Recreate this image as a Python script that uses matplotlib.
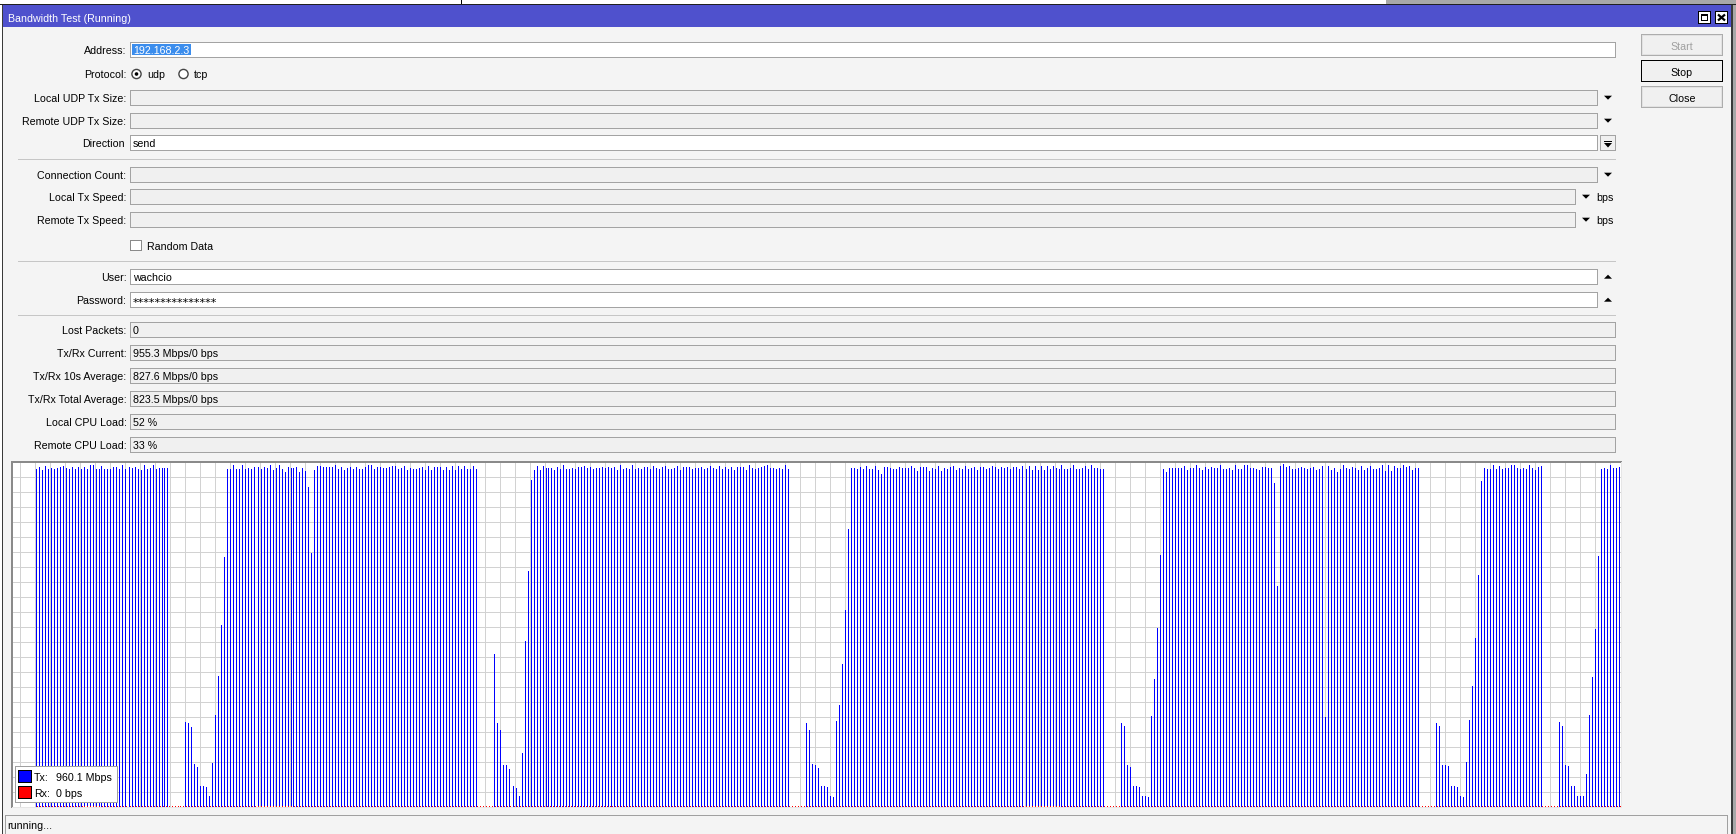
import matplotlib
matplotlib.use("Agg")
import matplotlib.pyplot as plt
from matplotlib.patches import Rectangle, Polygon, Circle
import numpy as np

# ---------------- data (Tx throughput per sample, Mbps) ----------------
tx_block1 = [956, 961, 953, 964, 956, 958, 956, 958, 961, 964, 958, 956, 961, 956, 961,
             956, 961, 956, 967, 967, 956, 956, 964, 956, 956, 956, 961, 961, 956, 967,
             956, 961, 958, 961, 956, 953, 967, 956, 958, 967, 956, 958, 958, 958, 958]
tx_gap1 = [0, 0, 0, 0, 0]
tx_ramp1 = [240, 237, 226, 121, 112, 60, 59, 56, 30, 124, 260, 370, 514, 707]
tx_block2 = [956, 956, 967, 956, 956, 967, 956, 958, 956, 961, 961, 956, 961, 958, 967,
             953, 958, 967, 956, 947, 961, 958, 958, 961, 947, 958, 950, 906, 718,
             953, 964, 964, 961, 961, 961, 961, 967, 956, 961, 953, 958, 961, 956, 961,
             956, 956, 961, 967, 967, 956, 961, 961, 958, 958, 961, 964, 964, 956, 958,
             964, 953, 958, 956, 956, 958, 961, 953, 964, 953, 961, 961, 961, 953, 961,
             953, 964, 953, 964, 956, 964, 956, 956, 964, 956]
tx_gap2 = [0, 0, 0, 0, 0]
tx_ramp2 = [432, 237, 217, 118, 118, 107, 59, 53, 30, 152, 469, 667, 925]
tx_block3 = [953, 964, 953, 964, 958, 958, 958, 953, 961, 956, 967, 956, 956, 958, 956,
             961, 961, 964, 958, 961, 956, 958, 958, 961, 958, 961, 958, 961, 953, 967,
             956, 958, 956, 967, 956, 958, 956, 961, 961, 956, 964, 958, 956, 961, 964,
             956, 956, 958, 964, 953, 961, 961, 961, 956, 958, 958, 961, 956, 958, 964,
             958, 956, 964, 956, 961, 956, 961, 953, 961, 961, 961, 953, 967, 958, 956,
             958, 961, 964, 967, 958, 958, 956, 958, 956, 967, 956]
tx_gap3 = [0, 0, 0, 0, 0]
tx_ramp3 = [237, 217, 121, 118, 110, 59, 59, 56, 30, 27, 243, 288, 404, 557, 786]
tx_block4 = [958, 958, 956, 961, 956, 964, 956, 956, 964, 953, 942, 961, 961, 958, 956,
             956, 961, 958, 958, 958, 964, 958, 950, 961, 961, 961, 950, 958, 956, 964,
             950, 958, 956, 961, 964, 953, 958, 956, 964, 956, 958, 961, 953, 961, 961,
             956, 958, 964, 961, 956, 961, 958, 961, 956, 961, 961, 956, 964, 956, 964,
             953, 964, 953, 964, 953, 964, 956, 964, 958, 956, 967, 956, 956, 958, 967,
             956, 956, 958, 964, 956, 967, 958, 958, 956, 956]
tx_gap4 = [0, 0, 0, 0, 0]
tx_ramp4 = [237, 228, 118, 112, 59, 59, 56, 30, 30, 27, 257, 361, 506, 712]
tx_block5 = [956, 947, 958, 958, 958, 958, 958, 964, 953, 958, 958, 967, 958, 953, 961,
             956, 961, 958, 958, 967, 956, 956, 958, 953, 967, 956, 956, 967, 967, 958,
             958, 956, 953, 961, 961, 958, 958, 916, 625, 964, 970, 961, 964, 956, 956,
             958, 961, 958, 956, 958, 961, 953, 956, 964, 254, 964, 953, 958, 947, 956,
             967, 958, 956, 961, 958, 953, 964, 953, 958, 964, 956, 956, 958, 967, 950,
             967, 950, 964, 958, 958, 967, 961, 964, 953, 958, 958]
tx_gap5 = [0, 0, 0, 0, 0]
tx_ramp5 = [237, 228, 118, 118, 115, 59, 59, 56, 30, 27, 127, 245, 342, 477, 656, 922]
tx_block6 = [958, 956, 956, 967, 956, 964, 956, 958, 958, 967, 967, 958, 956, 958, 956,
             967, 958, 953, 961, 964]
tx_gap6 = [0, 0, 0, 0, 0]
tx_ramp6 = [240, 228, 118, 115, 59, 59, 30, 30, 30, 93, 260, 367, 503, 709]
tx_block7 = [956, 958, 956, 967, 958, 958, 961]

tx_mbps = np.array(tx_block1 + tx_gap1 + tx_ramp1 + tx_block2 + tx_gap2 + tx_ramp2 +
                   tx_block3 + tx_gap3 + tx_ramp3 + tx_block4 + tx_gap4 + tx_ramp4 +
                   tx_block5 + tx_gap5 + tx_ramp5 + tx_block6 + tx_gap6 + tx_ramp6 +
                   tx_block7, dtype=float)
rx_mbps = np.zeros(len(tx_mbps))          # Rx: 0 bps throughout
legend_tx = "960.1 Mbps"
legend_rx = "0 bps"

# ---------------- form texts ----------------
title = "Bandwidth Test (Running)"
form_labels = ["Address:", "Local UDP Tx Size:", "Remote UDP Tx Size:", "Direction",
               "Connection Count:", "Local Tx Speed:", "Remote Tx Speed:",
               "User:", "Password:", "Lost Packets:", "Tx/Rx Current:",
               "Tx/Rx 10s Average:", "Tx/Rx Total Average:", "Local CPU Load:",
               "Remote CPU Load:"]
form_values = ["192.168.2.3", "", "", "send", "", "", "", "wachcio", "***************",
               "0", "955.3 Mbps/0 bps", "827.6 Mbps/0 bps", "823.5 Mbps/0 bps",
               "52 %", "33 %"]
button_labels = ["Start", "Stop", "Close"]
status_text = "running..."

# ---------------- layout ----------------
W, H = 1736, 834
FONT = ["Liberation Sans", "DejaVu Sans"]
FS = 7.7
BG = "#f4f4f4"
FIELD_GRAY = "#f0f0f0"
BORDER = "#a3a3a3"

fig = plt.figure(figsize=(W / 100, H / 100), dpi=100, facecolor=BG)
ui = fig.add_axes([0, 0, 1, 1])
ui.set_xlim(0, W)
ui.set_ylim(H, 0)
ui.axis("off")


def fill(ax, x0, y0, x1, y1, c, z=1):
    ax.add_patch(Rectangle((x0, y0), x1 - x0, y1 - y0, facecolor=c, edgecolor="none",
                           lw=0, zorder=z, antialiased=False))


def frame(ax, x0, y0, x1, y1, c, z=2, t=1):
    fill(ax, x0, y0, x1, y0 + t, c, z)
    fill(ax, x0, y1 - t, x1, y1, c, z)
    fill(ax, x0, y0, x0 + t, y1, c, z)
    fill(ax, x1 - t, y0, x1, y1, c, z)


def txt(ax, x, y, s, ha="left", color="black", fs=FS, z=5, family=None):
    ax.text(x, y, s, ha=ha, va="baseline", fontsize=fs, family=family or FONT,
            color=color, zorder=z)


def tri(ax, cx, cy, up=False, w=8, h=4):
    if up:
        pts = [(cx - w / 2, cy + h / 2), (cx + w / 2, cy + h / 2), (cx, cy - h / 2)]
    else:
        pts = [(cx - w / 2, cy - h / 2), (cx + w / 2, cy - h / 2), (cx, cy + h / 2)]
    ax.add_patch(Polygon(pts, closed=True, facecolor="black", edgecolor="none", zorder=4))


# screen behind window / window frame
fill(ui, 0, 0, 1386, 4, "white")
fill(ui, 1386, 0, W, 4, "#a8a8a8")
fill(ui, 461, 0, 462, 4, "black")
fill(ui, 0, 4, W, 5, "#202020")
fill(ui, 0, 5, 2, H, "white")
fill(ui, 2, 5, 3, H, "#3a3a3a")
fill(ui, 1731, 5, 1733, H, "#3a3a3a")
fill(ui, 1733, 5, W, H, "#a8a8a8")

# title bar
fill(ui, 3, 5, 1731, 27, "#4f51cd")
txt(ui, 8, 22, title, color="white")
fill(ui, 1698, 11, 1711, 24, "white", 3)
frame(ui, 1698, 11, 1711, 24, "black", 4)
frame(ui, 1701, 14, 1708, 21, "black", 5)
fill(ui, 1701, 14, 1708, 16, "black", 5)
fill(ui, 1715, 11, 1728, 24, "white", 3)
frame(ui, 1715, 11, 1728, 24, "black", 4)
ui.plot([1718, 1725], [14.5, 20.5], color="black", lw=1.6, zorder=6, solid_capstyle="butt")
ui.plot([1725, 1718], [14.5, 20.5], color="black", lw=1.6, zorder=6, solid_capstyle="butt")

# buttons
btn_tops = [34, 60, 86]
for lab, top in zip(button_labels, btn_tops):
    fill(ui, 1641, top, 1723, top + 22, "#f0f0f0", 2)
    frame(ui, 1641, top, 1723, top + 22, "black" if lab == "Stop" else "#adadad", 3)
    if lab != "Stop":
        frame(ui, 1642, top + 1, 1722, top + 21, "#e2e2e2", 3)
    txt(ui, 1682, top + 16, lab, ha="center", color="#a0a0a0" if lab == "Start" else "black")

# form rows: (top, right edge, white?, accessory)
row_tops = [42, 90, 113, 135, 167, 189, 212, 269, 292, 322, 345, 368, 391, 414, 437]
row_right = [1616, 1598, 1598, 1598, 1598, 1576, 1576, 1598, 1598,
             1616, 1616, 1616, 1616, 1616, 1616]
row_white = [True, False, False, True, False, False, False, True, True,
             False, False, False, False, False, False]
row_acc = [None, "down", "down", "dir", "down", "bps", "bps", "up", "up",
           None, None, None, None, None, None]

for lab, val, top, right, white, acc in zip(form_labels, form_values, row_tops,
                                             row_right, row_white, row_acc):
    c = top + 8
    txt(ui, 124.5 if lab == "Direction" else 126.5, c + 4.3, lab, ha="right")
    fill(ui, 130, top, right, top + 16, "white" if white else FIELD_GRAY, 2)
    frame(ui, 130, top, right, top + 16, BORDER, 3)
    if lab == "Address:":
        fill(ui, 132, 44, 191, 55, "#3b8ded", 4)
        txt(ui, 133, c + 4.3, val, color="white", z=6)
    elif lab == "Password:":
        txt(ui, 132.5, c + 6.3, val, fs=8.2, family=["DejaVu Sans"])
    elif val:
        txt(ui, 133, c + 4.3, val)
    if acc == "down":
        tri(ui, 1608, c - 0.3)
    elif acc == "up":
        tri(ui, 1608, c - 0.3, up=True)
    elif acc == "bps":
        tri(ui, 1586, c - 0.3)
        txt(ui, 1596.5, c + 4.3, "bps")
    elif acc == "dir":
        fill(ui, 1600, top, 1616, top + 16, FIELD_GRAY, 2)
        frame(ui, 1600, top, 1616, top + 16, BORDER, 3)
        fill(ui, 1604, top + 6, 1612, top + 7, "black", 4)
        ui.add_patch(Polygon([(1604, top + 8), (1612, top + 8), (1608, top + 12.5)],
                             closed=True, facecolor="black", edgecolor="none", zorder=4))

# protocol radio buttons
txt(ui, 126.5, 74 + 4.3, "Protocol:", ha="right")
for cx, lab, sel in [(136.5, "udp", True), (183.5, "tcp", False)]:
    ui.add_patch(Circle((cx, 74), 4.6, facecolor="white", edgecolor="#444444", lw=1.0,
                        zorder=3))
    if sel:
        ui.add_patch(Circle((cx, 74), 1.8, facecolor="black", edgecolor="none", zorder=4))
    txt(ui, cx + 10.5, 74 + 4.3, lab)

# random data checkbox
fill(ui, 130, 240, 142, 251, "white", 2)
frame(ui, 130, 240, 142, 251, "#8a8a8a", 3)
txt(ui, 147, 245.3 + 4.3, "Random Data")

# separators
for y in [159, 261, 315]:
    fill(ui, 18, y, 1616, y + 1, "#c6c6c6", 2)

# chart background + grid
CX0, CX1, CY0, CY1 = 12, 1621, 462, 807
fill(ui, CX0, CY0, CX1, CY1, "white", 1)
for gx in range(20, CX1, 15):
    fill(ui, gx, CY0, gx + 1, CY1, "#d2d2d2", 1.5)
for gy in range(477, CY1, 15):
    fill(ui, CX0, gy, CX1, gy + 1, "#d2d2d2", 1.5)
fill(ui, CX0 - 1, CY0 - 1, CX1 + 1, CY0 + 1, "#8a8a8a", 2)
fill(ui, CX0 - 1, CY0 - 1, CX0 + 1, CY1 + 1, "#8a8a8a", 2)
fill(ui, CX1, CY0, CX1 + 1, CY1 + 1, "#e6e6e6", 2)
fill(ui, CX0, CY1, CX1 + 1, CY1 + 1, "#e6e6e6", 2)

# status bar
fill(ui, 5, 815, 1728, 816, "#a0a0a0", 2)
fill(ui, 5, 815, 6, H, "#a0a0a0", 2)
fill(ui, 1727, 815, 1728, H, "#a0a0a0", 2)
txt(ui, 7.5, 829, status_text)

# ---------------- chart (bars) ----------------
MBPS_PER_PX = 2.83
ax = fig.add_axes([CX0 / W, (H - CY1) / H, (CX1 - CX0) / W, (CY1 - CY0) / H])
ax.set_zorder(3)
ax.patch.set_alpha(0)
ax.axis("off")
idx = np.arange(len(tx_mbps))
ax.set_xlim((CX0 - 35.5) / 3, (CX1 - 35.5) / 3)
ax.set_ylim(0, (CY1 - CY0) * MBPS_PER_PX)
m = tx_mbps > 0
ax.vlines(idx[m], 0, tx_mbps[m], colors="#0000ff", linewidth=0.72, antialiased=False)
ax.vlines(idx + 1 / 3, 0, np.maximum(rx_mbps, MBPS_PER_PX), colors="#ff0000",
          linewidth=0.72, antialiased=False)

# ---------------- legend overlay ----------------
top = fig.add_axes([0, 0, 1, 1])
top.set_zorder(4)
top.set_xlim(0, W)
top.set_ylim(H, 0)
top.axis("off")
fill(top, 15, 766, 118, 803, "white", 1)
frame(top, 15, 766, 118, 803, "#a0a0a0", 2)
fill(top, 18, 770, 32, 783, "#0000ff", 3)
frame(top, 18, 770, 32, 783, "black", 4)
fill(top, 18, 786, 32, 799, "#ff0000", 3)
frame(top, 18, 786, 32, 799, "black", 4)
txt(top, 34, 781.3, "Tx:")
txt(top, 55.7, 781.3, legend_tx)
txt(top, 34, 797.3, "Rx:")
txt(top, 55.7, 797.3, legend_rx)

fig.savefig("out.png", dpi=100, facecolor=BG)
